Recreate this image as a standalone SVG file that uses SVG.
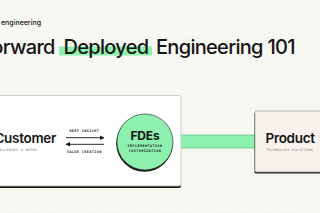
<svg xmlns="http://www.w3.org/2000/svg" width="320" height="213" viewBox="0 0 320 213">
  <defs>
    <pattern id="grid" x="5.3" y="2.9" width="11.65" height="11.65" patternUnits="userSpaceOnUse">
      <path d="M0 0H11.65M0 0V11.65" fill="none" stroke="#ebede4" stroke-width="0.6"/>
    </pattern>
    <marker id="ah" viewBox="0 0 6 6" refX="5.5" refY="3" markerWidth="4.5" markerHeight="4.5" orient="auto-start-reverse" markerUnits="userSpaceOnUse">
      <path d="M0 0L6 3L0 6Z" fill="#111"/>
    </marker>
    <style>
      .sans { font-family: Inter, "Liberation Sans", sans-serif; fill: #141414; }
      .title { font-size: 20px; font-weight: 500; letter-spacing: -0.7px; }
      .node { font-size: 13.5px; font-weight: 600; letter-spacing: -0.3px; }
      .mono { font-family: "DejaVu Sans Mono", "Liberation Mono", monospace; font-size: 3.2px; letter-spacing: 0.45px; fill: #6a6a6a; }
      .lbl { font-family: "DejaVu Sans Mono", "Liberation Mono", monospace; font-size: 3.3px; font-weight: 700; letter-spacing: 0.5px; fill: #222; }
      .shadow { fill: #1a1a1a; }
      .green { fill: #8ef0ae; }
    </style>
  </defs>
  <rect width="320" height="213" fill="#f8f8f3"/>
  <rect width="320" height="213" fill="url(#grid)"/>

  <g id="header">
    <text class="sans" x="1" y="24.5" font-size="7" font-weight="500">engineering</text>
    <rect class="green" x="59" y="46.5" width="93" height="9"/>
    <text class="sans title" y="54.3"><tspan x="-19">Forward</tspan><tspan x="63.5">Deployed</tspan><tspan x="156">Engineering 101</tspan></text>
  </g>

  <g id="connectors">
    <rect x="178" y="135" width="78" height="13" fill="#8ef0ae" stroke="#5fbf83" stroke-width="0.7"/>
  </g>

  <g id="customer">
    <rect class="shadow" x="-10" y="97" width="191" height="91" rx="2"/>
    <rect x="-10" y="95.5" width="191" height="90.5" rx="2" fill="#ffffff" stroke="#bdbdbd" stroke-width="0.7"/>
    <text class="sans node" x="56" y="143.3" text-anchor="end">Customer</text>
    <text class="mono" x="37.5" y="150.5" text-anchor="end">CHALLENGES &amp; NEEDS</text>
  </g>

  <g id="exchange">
    <line x1="66" y1="137.7" x2="104" y2="137.7" stroke="#111" stroke-width="0.9" marker-end="url(#ah)"/>
    <line x1="104" y1="144.3" x2="66" y2="144.3" stroke="#111" stroke-width="0.9" marker-end="url(#ah)"/>
    <text class="lbl" x="84.3" y="131.6" text-anchor="middle">DEEP INSIGHT</text>
    <text class="lbl" x="84.3" y="153" text-anchor="middle">VALUE CREATION</text>
  </g>

  <g id="fdes">
    <circle class="shadow" cx="144.5" cy="143.5" r="28.3"/>
    <circle cx="145" cy="142" r="28" fill="#8ef0ae" stroke="#2f3a32" stroke-width="0.7"/>
    <text class="sans" x="145" y="139.5" text-anchor="middle" font-size="12" font-weight="700" letter-spacing="-0.2">FDEs</text>
    <text class="lbl" x="145" y="146.6" text-anchor="middle" font-weight="400" fill="#2c4a36">IMPLEMENTATION</text>
    <text class="lbl" x="145" y="152.1" text-anchor="middle" font-weight="400" fill="#2c4a36">CUSTOMIZATION</text>
  </g>

  <g id="product">
    <rect class="shadow" x="254.5" y="112.5" width="80" height="61" rx="1.5"/>
    <rect x="255" y="111" width="80" height="61" rx="1.5" fill="#f7f3ec" stroke="#9a9a9a" stroke-width="0.7"/>
    <text class="sans node" x="265.5" y="143.3">Product</text>
    <text class="mono" x="266" y="150.5">TECHNOLOGY SOLUTIONS</text>
  </g>
</svg>
